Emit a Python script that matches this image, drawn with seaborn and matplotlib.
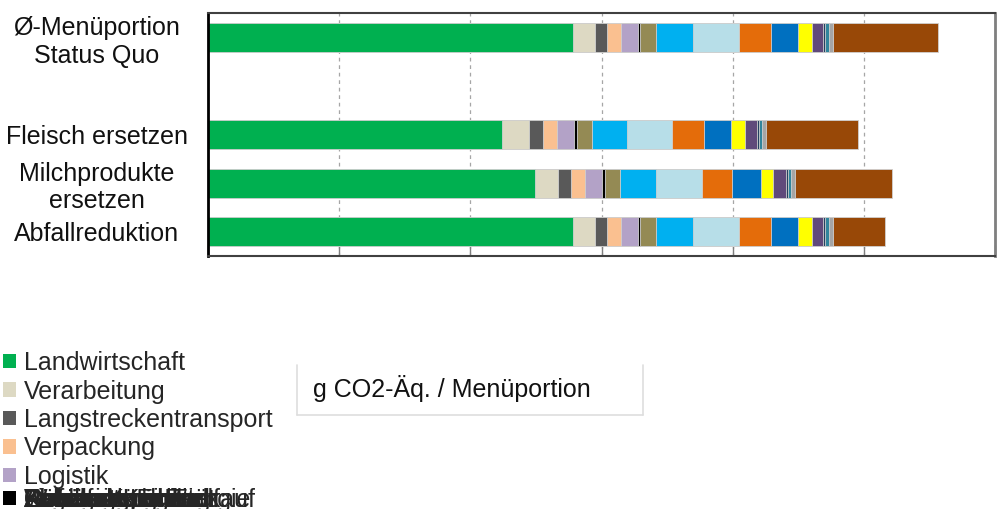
import matplotlib
matplotlib.use("Agg")
import matplotlib.pyplot as plt
from matplotlib.patches import Patch
from matplotlib.lines import Line2D
import numpy as np
import pandas as pd
import seaborn as sns

# Scenarios (a blank slot separates the baseline from the variants)
scenarios = ["Ø-Menüportion\nStatus Quo", " ", "Fleisch ersetzen",
             "Milchprodukte\nersetzen", "Abfallreduktion"]

# Emission sources, stacked left to right
segments = ["Landwirtschaft", "Verarbeitung", "Langstreckentransport",
            "Verpackung", "Logistik", "Lagerung Einkauf", "Kühlung Küche",
            "Zubereitung Energie", "Geräte Küche", "Gebäude",
            "Geschirrspülen", "Wasserverbrauch", "Abfallentsorgung",
            "Abwasser", "Reinigungsmittel", "Personalmobilität",
            "Lieferfahrten Einkauf"]
colors = ["#00B050", "#DDD9C3", "#595959", "#FAC090", "#B3A2C7", "#000000",
          "#948A54", "#00B0F0", "#B7DEE8", "#E46C0A", "#0070C0", "#FFFF00",
          "#604A7B", "#254061", "#31859C", "#A5A5A5", "#984807"]

# g CO2-eq per menu portion, one value per source
status_quo = [278, 17, 9, 11, 13, 1.5, 12, 28, 35, 25, 20, 11, 8.5, 1.5, 3, 3, 80]
fleisch = [224, 21, 10.5, 10.5, 13, 2.3, 11.5, 27, 34, 24.5, 20.5, 10.5, 9, 1.5, 2.5, 3, 70]
milch = [249, 18, 10, 10.5, 13, 2.3, 11.5, 27, 35, 23.5, 21.5, 9.5, 10, 1.5, 2.5, 3, 73.5]
abfall = [278, 17, 9, 11, 13, 1.5, 12, 28, 35, 25, 20, 11, 8.5, 1.5, 3, 3, 40]

series = {scenarios[0]: status_quo, scenarios[2]: fleisch,
          scenarios[3]: milch, scenarios[4]: abfall}

rows = []
for scen, vals in series.items():
    cum = np.cumsum(vals)
    for seg, c in zip(segments, cum):
        rows.append({"scenario": scen, "segment": seg, "cum": c})
df = pd.DataFrame(rows)

sns.set_theme(style="white")
plt.rcParams["font.family"] = ["Liberation Sans", "DejaVu Sans"]

fig = plt.figure(figsize=(10.01, 5.09), dpi=100)
ax = fig.add_axes([208 / 1001, 1 - 256 / 509, 787 / 1001, 243 / 509])

# Stacked bars: draw cumulative totals from longest to shortest
for i in reversed(range(len(segments))):
    sub = df[df["segment"] == segments[i]]
    sns.barplot(data=sub, x="cum", y="scenario", order=scenarios,
                color=colors[i], saturation=1, width=0.6, orient="h",
                errorbar=None, edgecolor="#D0D0D0", linewidth=0.6, ax=ax)

ax.set_xlim(0, 600)
ax.set_ylim(4.5, -0.5)
ax.set_xticks(range(0, 601, 100))
ax.set_xticklabels([])
ax.set_xlabel("")
ax.set_ylabel("")
ax.xaxis.grid(True, color="#A6A6A6", linestyle=(0, (3, 3)), linewidth=0.9)
ax.yaxis.grid(False)
ax.set_axisbelow(True)
ax.tick_params(axis="x", direction="in", length=8, color="#7F7F7F",
               width=1.0, bottom=True)
ax.tick_params(axis="y", length=0, pad=80, labelsize=18, labelcolor="#111111")
for lab in ax.get_yticklabels():
    lab.set_ha("center")
    lab.set_multialignment("center")

ax.spines["left"].set_color("#000000")
ax.spines["left"].set_linewidth(2)
ax.spines["top"].set_color("#404040")
ax.spines["top"].set_linewidth(1.5)
ax.spines["bottom"].set_color("#404040")
ax.spines["bottom"].set_linewidth(1.5)
ax.spines["right"].set_color("#7F7F7F")
ax.spines["right"].set_linewidth(2)

# Legend: first five rows, then the remaining entries piled on the last row
handles = [Patch(facecolor=c, edgecolor="none") for c in colors]
leg_kw = dict(loc="upper left", frameon=False, fontsize=18,
              handlelength=0.52, handleheight=0.52, handletextpad=0.32,
              borderpad=0, borderaxespad=0, labelspacing=0.18)
fig.legend(handles[:5], segments[:5],
           bbox_to_anchor=(3 / 1001, 1 - 351 / 509), **leg_kw)
for i in reversed(range(5, len(segments))):
    fig.legend([handles[i]], [segments[i]],
               bbox_to_anchor=(3 / 1001, 1 - 488 / 509), **leg_kw)

# Axis title box
box_l, box_r, box_t, box_b = 297 / 1001, 643 / 1001, 1 - 365 / 509, 1 - 415 / 509
for xs, ys in [([box_l, box_l], [box_t, box_b]),
               ([box_l, box_r], [box_b, box_b]),
               ([box_r, box_r], [box_b, box_t])]:
    fig.add_artist(Line2D(xs, ys, transform=fig.transFigure,
                          color="#DEDEDE", linewidth=1.2))
fig.text(313 / 1001, 1 - 388 / 509, "g CO2-Äq. / Menüportion",
         ha="left", va="center", fontsize=18, color="#111111")

fig.savefig("out.png", dpi=100)
